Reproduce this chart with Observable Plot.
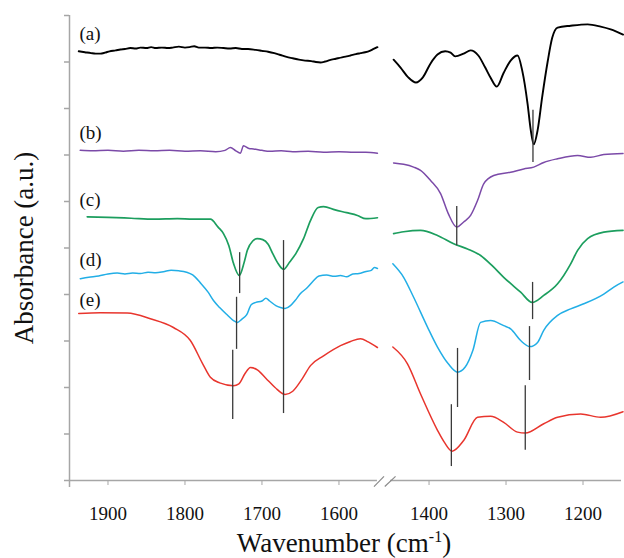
<!DOCTYPE html>
<html><head><meta charset="utf-8">
<script src="https://cdn.jsdelivr.net/npm/d3@7"></script>
<script src="https://cdn.jsdelivr.net/npm/@observablehq/plot@0.6"></script>
<style>
body{margin:0;background:#fff}
svg{display:block}
</style>
</head><body><div id="chart"></div>
<script>
// ---- data: [wavenumber (cm-1), absorbance (a.u., stacked offset)] ----
const aLeft = [[1938,9.23],[1930,9.21],[1922,9.19],[1916,9.18],[1910,9.18],[1904,9.20],[1898,9.23],[1890,9.25],[1884,9.27],[1878,9.28],[1871,9.30],[1864,9.29],[1858,9.31],[1850,9.30],[1844,9.32],[1838,9.30],[1830,9.31],[1822,9.30],[1816,9.31],[1808,9.33],[1800,9.31],[1794,9.32],[1788,9.34],[1782,9.31],[1774,9.31],[1766,9.30],[1758,9.31],[1750,9.30],[1742,9.29],[1734,9.30],[1726,9.28],[1718,9.28],[1708,9.26],[1700,9.24],[1692,9.22],[1684,9.19],[1676,9.15],[1668,9.11],[1660,9.08],[1652,9.05],[1644,9.03],[1636,9.02],[1630,9.00],[1624,8.99],[1618,9.01],[1612,9.04],[1604,9.07],[1596,9.10],[1590,9.12],[1585,9.14],[1578,9.17],[1572,9.19],[1566,9.21],[1560,9.24],[1555,9.28],[1550,9.32]];
const aRight = [[1446,9.05],[1437,8.88],[1427,8.67],[1417,8.56],[1408,8.67],[1398,8.97],[1389,9.16],[1379,9.23],[1372,9.20],[1366,9.12],[1355,9.18],[1346,9.25],[1336,9.14],[1327,8.88],[1320,8.66],[1312,8.47],[1303,8.77],[1294,9.03],[1285,9.14],[1279,8.82],[1272,8.10],[1268,7.55],[1264,7.23],[1259,7.53],[1253,8.25],[1246,9.00],[1240,9.52],[1233,9.74],[1216,9.78],[1194,9.81],[1177,9.76],[1164,9.70],[1148,9.59]];
const bLeft = [[1936,7.10],[1920,7.09],[1900,7.10],[1880,7.08],[1860,7.10],[1840,7.09],[1820,7.10],[1800,7.08],[1780,7.09],[1760,7.07],[1748,7.10],[1741,7.16],[1734,7.09],[1728,7.04],[1724,7.20],[1717,7.14],[1711,7.13],[1700,7.10],[1690,7.08],[1675,7.09],[1660,7.07],[1640,7.08],[1620,7.06],[1600,7.07],[1580,7.06],[1565,7.06],[1550,7.04]];
const bRight = [[1446,6.83],[1433,6.80],[1420,6.74],[1411,6.67],[1398,6.45],[1385,6.17],[1375,5.74],[1364,5.45],[1355,5.56],[1346,5.70],[1337,6.02],[1329,6.38],[1316,6.56],[1294,6.63],[1277,6.70],[1264,6.74],[1251,6.84],[1233,6.92],[1207,6.99],[1190,6.95],[1173,7.01],[1148,7.03]];
const cLeft = [[1927,5.67],[1900,5.66],[1870,5.64],[1840,5.62],[1810,5.63],[1790,5.62],[1767,5.62],[1757,5.45],[1750,5.31],[1743,5.05],[1737,4.67],[1729.5,4.41],[1723,4.70],[1719,4.95],[1712,5.15],[1706,5.20],[1699,5.18],[1692,5.08],[1686,4.88],[1680,4.69],[1672,4.54],[1664,4.70],[1656,4.88],[1646,5.20],[1637,5.59],[1627,5.87],[1620,5.89],[1605,5.82],[1590,5.76],[1576,5.70],[1565,5.63],[1550,5.65]];
const cRight = [[1446,5.31],[1433,5.35],[1411,5.38],[1389,5.27],[1368,5.09],[1350,4.98],[1333,4.84],[1318,4.62],[1303,4.37],[1281,4.05],[1266,3.83],[1251,3.98],[1233,4.23],[1216,4.66],[1207,4.95],[1194,5.20],[1173,5.34],[1148,5.38]];
const dLeft = [[1936,4.34],[1925,4.37],[1912,4.40],[1900,4.44],[1888,4.46],[1878,4.44],[1868,4.46],[1858,4.45],[1848,4.48],[1838,4.47],[1828,4.49],[1818,4.52],[1808,4.51],[1798,4.48],[1790,4.42],[1780,4.25],[1770,4.05],[1763,3.87],[1755,3.72],[1745,3.56],[1737,3.44],[1732,3.40],[1726,3.47],[1720,3.56],[1714,3.78],[1708,3.83],[1700,3.86],[1695,3.92],[1690,3.86],[1682,3.76],[1676,3.72],[1670,3.70],[1663,3.76],[1657,3.87],[1650,4.02],[1641,4.15],[1634,4.28],[1626,4.40],[1616,4.42],[1606,4.39],[1598,4.41],[1590,4.38],[1582,4.44],[1574,4.45],[1566,4.49],[1558,4.52],[1554,4.58],[1550,4.56]];
const dRight = [[1447,4.66],[1433,4.37],[1420,3.94],[1402,3.30],[1389,2.87],[1375,2.51],[1363,2.33],[1353,2.44],[1343,2.80],[1333,3.40],[1320,3.44],[1303,3.33],[1294,3.26],[1281,3.01],[1269,2.88],[1259,2.97],[1251,3.23],[1233,3.55],[1216,3.69],[1199,3.80],[1173,4.01],[1160,4.16],[1148,4.27]];
const eLeft = [[1938,3.59],[1910,3.61],[1875,3.60],[1845,3.48],[1815,3.29],[1793,3.01],[1777,2.51],[1767,2.22],[1755,2.10],[1737,2.04],[1730,2.08],[1722,2.30],[1715,2.43],[1706,2.38],[1695,2.20],[1683,2.00],[1670,1.85],[1660,1.92],[1648,2.18],[1637,2.47],[1620,2.68],[1598,2.90],[1585,2.99],[1572,3.05],[1562,2.98],[1550,2.86]];
const eRight = [[1447,2.87],[1428,2.51],[1411,1.86],[1389,1.08],[1380,0.82],[1370,0.63],[1355,0.86],[1337,1.36],[1320,1.38],[1303,1.25],[1285,1.04],[1275,1.02],[1251,1.22],[1233,1.36],[1203,1.43],[1177,1.36],[1148,1.48]];

// peak markers: wavenumber, top, bottom
const peakWn  = [1729, 1672, 1733, 1738, 1265, 1364, 1265.5, 1363, 1269.5, 1371, 1275];
const peakTop = [4.90, 5.16, 3.94, 2.80, 7.96, 5.89, 4.26, 2.84, 3.31, 1.63, 2.04];
const peakBot = [4.02, 1.44, 2.82, 1.31, 6.84, 5.05, 3.46, 1.57, 2.15, 0.30, 0.65];

const seriesLabels = ["(a)", "(b)", "(c)", "(d)", "(e)"];
const labelY = [9.60, 7.47, 6.03, 4.74, 3.88];
const seriesColors = ["#000000", "#7b4aa8", "#1c9e5e", "#22aee6", "#e8352d"];
const xTicks = [1950, 1900, 1800, 1700, 1600, 1400, 1300, 1200];
const yTicks = [0,1,2,3,4,5,6,7,8,9,10];

const SERIF = "'Liberation Serif', 'Times New Roman', 'DejaVu Serif', serif";

// broken axis: 1950-1550 | gap | 1450-1150, mapped onto one continuous coordinate
const leftPanel = [1950, 1550], rightPanel = [1450, 1150], gapWidth = 17;
const gapX = wn => wn >= (leftPanel[1] + rightPanel[0]) / 2
  ? leftPanel[0] - wn
  : (leftPanel[0] - leftPanel[1]) + gapWidth + (rightPanel[0] - wn);
const xMax = gapX(rightPanel[1]);

const seriesData = [[aLeft, aRight], [bLeft, bRight], [cLeft, cRight], [dLeft, dRight], [eLeft, eRight]];
const widths = [1.9, 1.5, 1.7, 1.5, 1.5];

const lineMarks = [];
seriesData.forEach((pair, i) => {
  pair.forEach(arr => {
    lineMarks.push(Plot.line(arr, {x: d => gapX(d[0]), y: d => d[1], stroke: seriesColors[i], strokeWidth: widths[i], curve: "monotone-x"}));
  });
});

const peaks = peakWn.map((w, i) => ({x: gapX(w), t: peakTop[i], b: peakBot[i]}));
const labels = seriesLabels.map((l, i) => ({l, x: gapX(1937), y: labelY[i]}));
const gapMid = gapX(leftPanel[1]) + gapWidth / 2;
const breaks = [{x1: gapMid - 13, x2: gapMid}, {x1: gapMid + 1, x2: gapMid + 15}];

const plot = Plot.plot({
  width: 624, height: 558,
  marginTop: 15, marginRight: 3, marginBottom: 78, marginLeft: 69,
  style: `font-family: ${SERIF}; background: #fff;`,
  x: {type: "linear", domain: [0, xMax]},
  y: {type: "linear", domain: [0, 10]},
  marks: [
    Plot.ruleX([0], {y1: -0.15, y2: 10, stroke: "#a6a6a6", strokeWidth: 1.5}),
    Plot.ruleY([0], {x1: gapX(leftPanel[0]), x2: gapX(leftPanel[1]), stroke: "#a6a6a6", strokeWidth: 1.5}),
    Plot.ruleY([0], {x1: gapX(rightPanel[0]), x2: gapX(rightPanel[1]), stroke: "#a6a6a6", strokeWidth: 1.5}),
    Plot.link(breaks, {x1: "x1", x2: "x2", y1: () => -0.13, y2: () => 0.09, stroke: "#8a8a8a", strokeWidth: 1.2}),
    Plot.axisY({ticks: yTicks, tickSize: 5, tickFormat: () => "", stroke: "#a6a6a6", strokeWidth: 1.5, label: null}),
    Plot.axisX({ticks: xTicks.map(gapX), tickSize: 5, tickPadding: 21, fontSize: 19,
      tickFormat: (d, i) => xTicks[i] === 1950 ? "" : String(xTicks[i]),
      stroke: "#a6a6a6", fill: "#111", label: null}),
    ...lineMarks,
    Plot.ruleX(peaks, {x: "x", y1: "t", y2: "b", stroke: "#3a3a3a", strokeWidth: 1.3}),
    Plot.text(labels, {x: "x", y: "y", text: "l", textAnchor: "start", lineAnchor: "middle", fontSize: 19, fill: "#111"})
  ]
});

const svg = d3.select(plot);
svg.append("text")
  .attr("transform", "translate(33,248) rotate(-90)")
  .attr("text-anchor", "middle")
  .attr("font-size", 27)
  .attr("fill", "#111")
  .text("Absorbance (a.u.)");
const xl = svg.append("text")
  .attr("x", 344).attr("y", 552)
  .attr("text-anchor", "middle")
  .attr("font-size", 27)
  .attr("fill", "#111");
xl.append("tspan").text("Wavenumber (cm");
xl.append("tspan").attr("dy", -10).attr("font-size", 16).text("-1");
xl.append("tspan").attr("dy", 10).text(")");

svg.style("font-family", SERIF);
svg.selectAll("text, g").style("font-family", SERIF);

document.getElementById("chart").appendChild(plot);
</script>
</body></html>
